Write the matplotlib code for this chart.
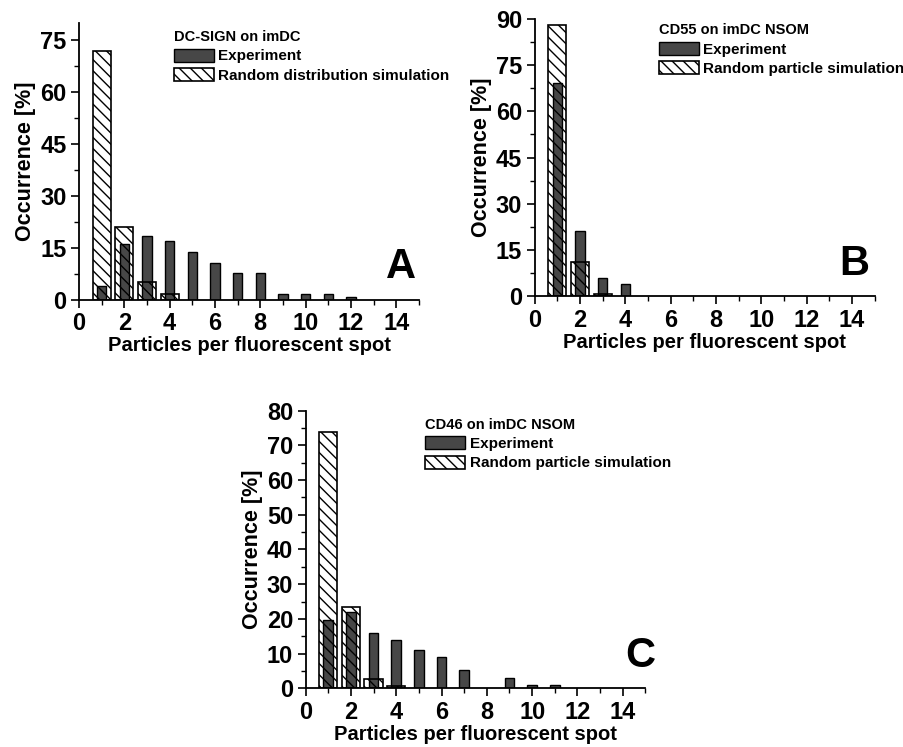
import numpy as np
import matplotlib
matplotlib.use("Agg")
import matplotlib.pyplot as plt
from matplotlib.ticker import MultipleLocator

plt.rcParams['font.family'] = ['Liberation Sans', 'DejaVu Sans']
plt.rcParams['font.weight'] = 'bold'
plt.rcParams['hatch.linewidth'] = 1.0

exp_color = "#474747"

# particles per spot
x_a = [1, 2, 3, 4, 5, 6, 7, 8, 9, 10, 11, 12]
exp_a = [3.8, 16.1, 18.3, 16.9, 13.7, 10.6, 7.6, 7.6, 1.5, 1.5, 1.5, 0.8]
sim_x_a = [1, 2, 3, 4]
sim_a = [72.0, 21.0, 5.1, 1.5]

x_b = [1, 2, 3, 4]
exp_b = [69.1, 21.1, 5.7, 3.8]
sim_x_b = [1, 2, 3]
sim_b = [88.0, 11.2, 0.7]

x_c = [1, 2, 3, 4, 5, 6, 7, 9, 10, 11]
exp_c = [19.7, 22.0, 16.0, 13.8, 11.0, 8.9, 5.2, 3.1, 0.9, 0.9]
sim_x_c = [1, 2, 3, 4]
sim_c = [74.0, 23.3, 2.7, 0.8]

titles = ["DC-SIGN on imDC", "CD55 on imDC NSOM", "CD46 on imDC NSOM"]
sim_labels = ["Random distribution simulation", "Random particle simulation",
              "Random particle simulation"]
letters = ["A", "B", "C"]
ymax = [80, 90, 80]
ystep = [15, 15, 10]

fig = plt.figure(figsize=(9.04, 7.47), dpi=100)
positions = [[0.0874, 0.599, 0.376, 0.370],
             [0.5915, 0.6037, 0.376, 0.3708],
             [0.338, 0.0786, 0.376, 0.3716]]
legend_anchor = [(0.28, 0.975), (0.365, 0.985), (0.352, 0.975)]
letter_pos = [(0.99, 0.045), (0.985, 0.045), (1.03, 0.045)]

data = [(x_a, exp_a, sim_x_a, sim_a), (x_b, exp_b, sim_x_b, sim_b),
        (x_c, exp_c, sim_x_c, sim_c)]

for k, (xe, ye, xs, ys) in enumerate(data):
	ax = fig.add_axes(positions[k])
	ax.bar(xe, ye, width=0.42, color=exp_color, edgecolor="black",
	       linewidth=1.0, label="Experiment", zorder=2)
	ax.bar(xs, ys, width=0.8, facecolor="none", edgecolor="black",
	       hatch="\\\\\\", linewidth=1.2, label=sim_labels[k], zorder=3)

	ax.set_xlim(0, 15)
	ax.set_ylim(0, ymax[k])
	ax.xaxis.set_major_locator(MultipleLocator(2))
	ax.xaxis.set_minor_locator(MultipleLocator(1))
	ax.yaxis.set_major_locator(MultipleLocator(ystep[k]))
	ax.yaxis.set_minor_locator(MultipleLocator(ystep[k] / 2))
	ax.tick_params(which='major', direction='out', length=6, width=1.2,
	               labelsize=17, pad=3)
	ax.tick_params(which='minor', direction='out', length=3.5, width=1.0)
	for t in ax.get_xticklabels() + ax.get_yticklabels():
		t.set_fontweight('bold')

	ax.spines['top'].set_visible(False)
	ax.spines['right'].set_visible(False)
	ax.spines['left'].set_linewidth(1.3)
	ax.spines['bottom'].set_linewidth(1.3)

	ax.set_xlabel("Particles per fluorescent spot", fontsize=14.5,
	              fontweight='bold', labelpad=1)
	ax.set_ylabel("Occurrence [%]", fontsize=15.5, fontweight='bold',
	              labelpad=3)

	leg = ax.legend(loc='upper left', bbox_to_anchor=legend_anchor[k],
	                frameon=False, fontsize=11, title=titles[k],
	                title_fontproperties={'size': 10.5, 'weight': 'bold'},
	                handlelength=2.6, handleheight=0.95, handletextpad=0.3,
	                labelspacing=0.3, borderaxespad=0, borderpad=0,
	                alignment='left')

	ax.text(letter_pos[k][0], letter_pos[k][1], letters[k],
	        transform=ax.transAxes, ha='right', va='bottom', fontsize=30,
	        fontweight='bold')

plt.savefig("out.png", dpi=100)
